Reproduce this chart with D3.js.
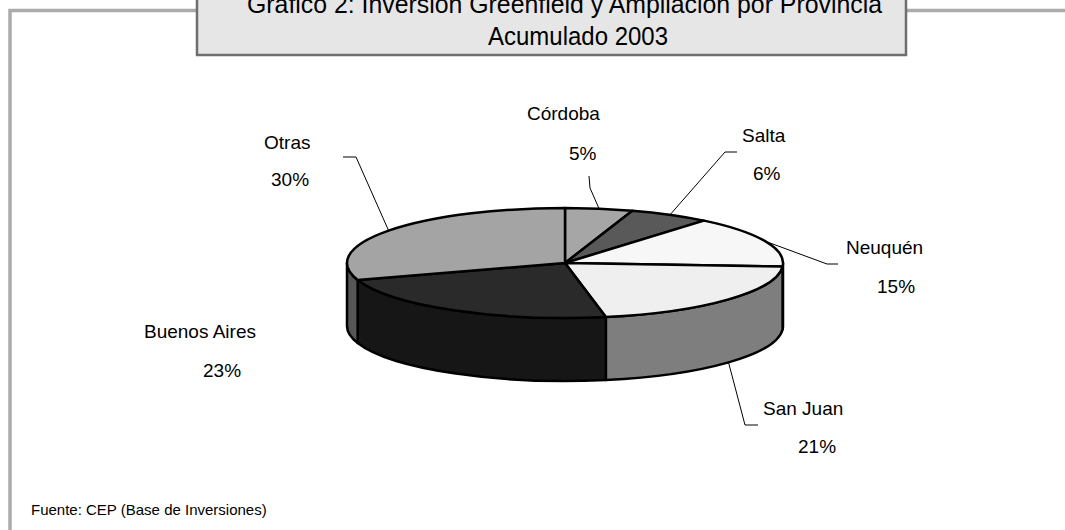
<!DOCTYPE html>
<html>
<head>
<meta charset="utf-8">
<script src="https://cdn.jsdelivr.net/npm/d3@7"></script>
<style>
  body { margin: 0; background: #fff; }
  text { font-family: "Liberation Sans", Arial, sans-serif; fill: #000; }
</style>
</head>
<body>
<div id="chart"></div>
<script>
// data
var provincias = ["Córdoba", "Salta", "Neuquén", "San Juan", "Buenos Aires", "Otras"];
var porcentajes = [5, 6, 15, 21, 23, 30];
var titulo = ["Gráfico 2: Inversión Greenfield y Ampliación por Provincia", "Acumulado 2003"];
var fuente = "Fuente: CEP (Base de Inversiones)";

// colours of the top faces, sides are darker
var colores = ["#a6a6a6", "#595959", "#f7f7f7", "#efefef", "#2a2a2a", "#a4a4a4"];

// where the labels sit (name left x / baseline, pct left x / baseline, leader elbow + end)
var etiquetas = {
  "Córdoba":      {nx: 527, ny: 120, px: 569, py: 160, leader: [[590, 188], [589, 176]]},
  "Salta":        {nx: 742, ny: 142, px: 753, py: 180, leader: [[725, 152], [737, 152]]},
  "Neuquén":      {nx: 846, ny: 254, px: 877, py: 293, leader: [[827, 264], [838, 264]]},
  "San Juan":     {nx: 763, ny: 415, px: 798, py: 453, leader: [[745, 425], [758, 425]]},
  "Buenos Aires": {nx: 144, ny: 338, px: 203, py: 377, leader: null},
  "Otras":        {nx: 264, ny: 149, px: 271, py: 186, leader: [[356, 157], [343, 157]]}
};

var w = 1065, h = 530;
var cx = 565, cy = 263, rx = 218, ry = 55, depth = 63;

var svg = d3.select("#chart").append("svg")
  .attr("width", w)
  .attr("height", h);

// outer frame (only top + left visible)
svg.append("path")
  .attr("d", "M" + w + ",10.5 L10,10.5 L10," + h)
  .attr("fill", "none")
  .attr("stroke", "#ababab")
  .attr("stroke-width", 3.5);

// title box
svg.append("rect")
  .attr("x", 197).attr("y", -10)
  .attr("width", 709).attr("height", 65)
  .attr("fill", "#e6e6e6")
  .attr("stroke", "#6e6e6e")
  .attr("stroke-width", 2.5);

svg.append("text")
  .attr("x", 247).attr("y", 13)
  .attr("font-size", "25px")
  .attr("textLength", 635)
  .attr("lengthAdjust", "spacingAndGlyphs")
  .text(titulo[0]);
svg.append("text")
  .attr("x", 488).attr("y", 45)
  .attr("font-size", "25px")
  .attr("textLength", 180)
  .attr("lengthAdjust", "spacingAndGlyphs")
  .text(titulo[1]);

svg.append("text")
  .attr("x", 31).attr("y", 515)
  .attr("font-size", "15px")
  .text(fuente);

// pie angles (0 = 12 o'clock, clockwise)
var pie = d3.pie().sort(null).value(function(d) { return d; });
var arcs = pie(porcentajes);

function pt(a, dy) {
  return [cx + rx * Math.sin(a), cy - ry * Math.cos(a) + (dy || 0)];
}

// sides: only the front half [pi/2, 3pi/2] shows
var g = svg.append("g");
arcs.forEach(function(d, i) {
  var a0 = Math.max(d.startAngle, Math.PI / 2);
  var a1 = Math.min(d.endAngle, 3 * Math.PI / 2);
  if (a1 <= a0) return;
  var p0 = pt(a0), p1 = pt(a1), q1 = pt(a1, depth), q0 = pt(a0, depth);
  var path = "M" + p0 + " A" + rx + "," + ry + " 0 0 1 " + p1 +
    " L" + q1 + " A" + rx + "," + ry + " 0 0 0 " + q0 + " Z";
  g.append("path")
    .attr("d", path)
    .attr("fill", d3.rgb(colores[i]).darker(1.8))
    .attr("stroke", "#000")
    .attr("stroke-width", 2.5)
    .attr("stroke-linejoin", "round");
});

// top faces
arcs.forEach(function(d, i) {
  var p0 = pt(d.startAngle), p1 = pt(d.endAngle);
  var large = (d.endAngle - d.startAngle) > Math.PI ? 1 : 0;
  var path = "M" + cx + "," + cy + " L" + p0 + " A" + rx + "," + ry + " 0 " + large + " 1 " + p1 + " Z";
  g.append("path")
    .attr("d", path)
    .attr("fill", colores[i])
    .attr("stroke", "#000")
    .attr("stroke-width", 2.5)
    .attr("stroke-linejoin", "round");
});

// labels + leader lines
arcs.forEach(function(d, i) {
  var nombre = provincias[i];
  var lay = etiquetas[nombre];
  var mid = (d.startAngle + d.endAngle) / 2;
  var front = Math.cos(mid) < 0;
  var start = pt(mid, front ? depth : 0);
  if (lay.leader) {
    svg.append("polyline")
      .attr("points", [start].concat(lay.leader).map(function(p) { return p.join(","); }).join(" "))
      .attr("fill", "none")
      .attr("stroke", "#000")
      .attr("stroke-width", 1);
  }
  svg.append("text")
    .attr("x", lay.nx).attr("y", lay.ny)
    .attr("font-size", "19px")
    .text(nombre);
  svg.append("text")
    .attr("x", lay.px).attr("y", lay.py)
    .attr("font-size", "19px")
    .text(d.data + "%");
});
</script>
</body>
</html>
